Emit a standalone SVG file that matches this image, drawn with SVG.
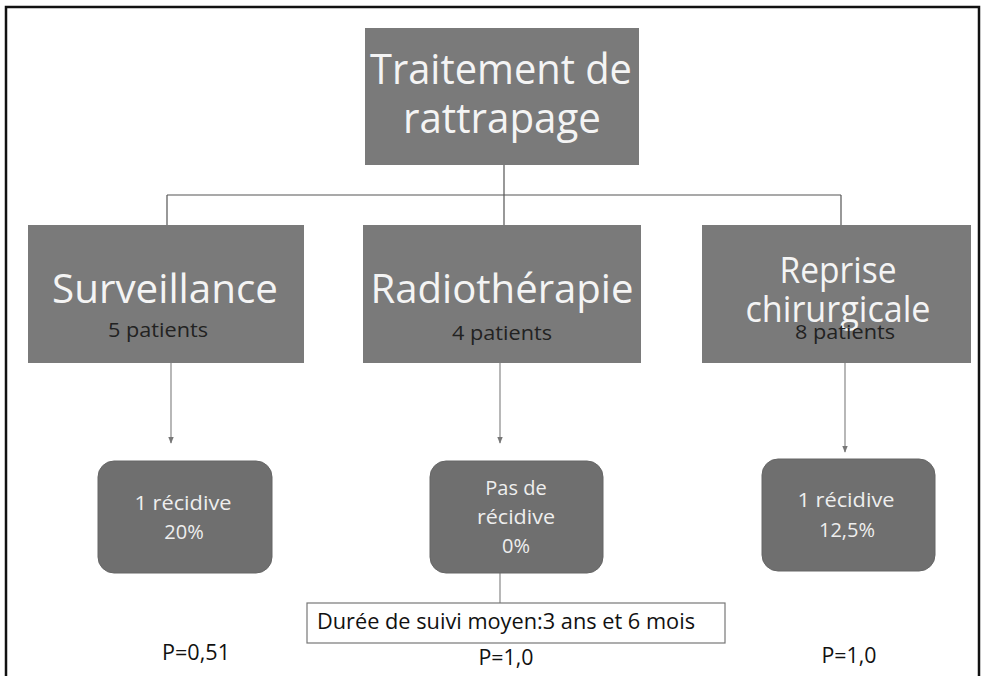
<svg xmlns="http://www.w3.org/2000/svg" width="987" height="676" viewBox="0 0 987 676">
<defs>
<style>
.frame{fill:none;stroke:#111;stroke-width:2.5}
.box{fill:#7a7a7a}
.rbox{fill:#6f6f6f;stroke:#666;stroke-width:1}
.big{font-family:"Open Sans","Noto Sans",sans-serif;fill:#f4f4f4;text-anchor:middle}
.small{font-family:"Open Sans","Noto Sans",sans-serif;fill:#222;text-anchor:middle;font-size:20px}
.wl{font-family:"Open Sans","Noto Sans",sans-serif;fill:#eeeeee;text-anchor:middle;font-size:20px}
.plain{font-family:"Open Sans","Noto Sans",sans-serif;fill:#111;text-anchor:middle;font-size:21px}
.conn{fill:none;stroke:#555;stroke-width:1.2}
.arr{fill:none;stroke:#888;stroke-width:1.2}
</style>
<marker id="ah" viewBox="0 0 10 10" refX="9" refY="5" markerWidth="7" markerHeight="7" orient="auto" markerUnits="userSpaceOnUse">
<path d="M0,1 L10,5 L0,9 z" fill="#777"/>
</marker>
</defs>
<rect x="0" y="0" width="987" height="676" fill="#ffffff"/>
<path class="frame" d="M6,680 L6,7 L979,7 L979,680"/>

<g id="connectors">
<path class="conn" d="M504,165 L504,195 M167,195 L841,195 M167,195 L167,225 M504,195 L504,225 M841,195 L841,225"/>
<path class="arr" d="M171,363 L171,443" marker-end="url(#ah)"/>
<path class="arr" d="M500,363 L500,443" marker-end="url(#ah)"/>
<path class="arr" d="M845,363 L845,452" marker-end="url(#ah)"/>
<path class="arr" d="M500,573 L500,603"/>
</g>

<g id="n-traitement">
<rect class="box" x="365" y="28" width="274" height="137"/>
<text class="big" x="501" y="84" font-size="42" textLength="262" lengthAdjust="spacingAndGlyphs">Traitement de</text>
<text class="big" x="502" y="133" font-size="42" textLength="198" lengthAdjust="spacingAndGlyphs">rattrapage</text>
</g>

<g id="n-surveillance">
<rect class="box" x="28" y="225" width="276" height="138"/>
<text class="big" x="165" y="303" font-size="40" textLength="226" lengthAdjust="spacingAndGlyphs">Surveillance</text>
<text class="small" x="158" y="337" textLength="100" lengthAdjust="spacingAndGlyphs">5 patients</text>
</g>

<g id="n-radiotherapie">
<rect class="box" x="363" y="225" width="278" height="138"/>
<text class="big" x="502" y="303" font-size="40" textLength="263" lengthAdjust="spacingAndGlyphs">Radiothérapie</text>
<text class="small" x="502" y="340" textLength="100" lengthAdjust="spacingAndGlyphs">4 patients</text>
</g>

<g id="n-reprise">
<rect class="box" x="702" y="225" width="269" height="138"/>
<text class="big" x="838" y="283" font-size="36" textLength="117" lengthAdjust="spacingAndGlyphs">Reprise</text>
<text class="big" x="838" y="322" font-size="36" textLength="185" lengthAdjust="spacingAndGlyphs">chirurgicale</text>
<text class="small" x="845" y="339" textLength="100" lengthAdjust="spacingAndGlyphs">8 patients</text>
</g>

<g id="n-recidive1">
<rect class="rbox" x="98" y="461" width="174" height="112" rx="16" ry="16"/>
<text class="wl" x="183" y="510" textLength="97" lengthAdjust="spacingAndGlyphs">1 récidive</text>
<text class="wl" x="184" y="539">20%</text>
</g>

<g id="n-pasderecidive">
<rect class="rbox" x="430" y="461" width="173" height="112" rx="16" ry="16"/>
<text class="wl" x="516" y="495">Pas de</text>
<text class="wl" x="516" y="524" textLength="78" lengthAdjust="spacingAndGlyphs">récidive</text>
<text class="wl" x="516" y="553">0%</text>
</g>

<g id="n-recidive2">
<rect class="rbox" x="762" y="459" width="173" height="112" rx="16" ry="16"/>
<text class="wl" x="846" y="507" textLength="97" lengthAdjust="spacingAndGlyphs">1 récidive</text>
<text class="wl" x="847" y="537">12,5%</text>
</g>

<g id="n-duree">
<rect x="307" y="603" width="418" height="40" fill="#ffffff" stroke="#777" stroke-width="1.2"/>
<text class="plain" x="506" y="629" textLength="378" lengthAdjust="spacingAndGlyphs">Durée de suivi moyen:3 ans et 6 mois</text>
</g>

<g id="p-values">
<text class="plain" x="196" y="660" textLength="68" lengthAdjust="spacingAndGlyphs">P=0,51</text>
<text class="plain" x="506" y="665" textLength="55" lengthAdjust="spacingAndGlyphs">P=1,0</text>
<text class="plain" x="849" y="663" textLength="55" lengthAdjust="spacingAndGlyphs">P=1,0</text>
</g>
</svg>
